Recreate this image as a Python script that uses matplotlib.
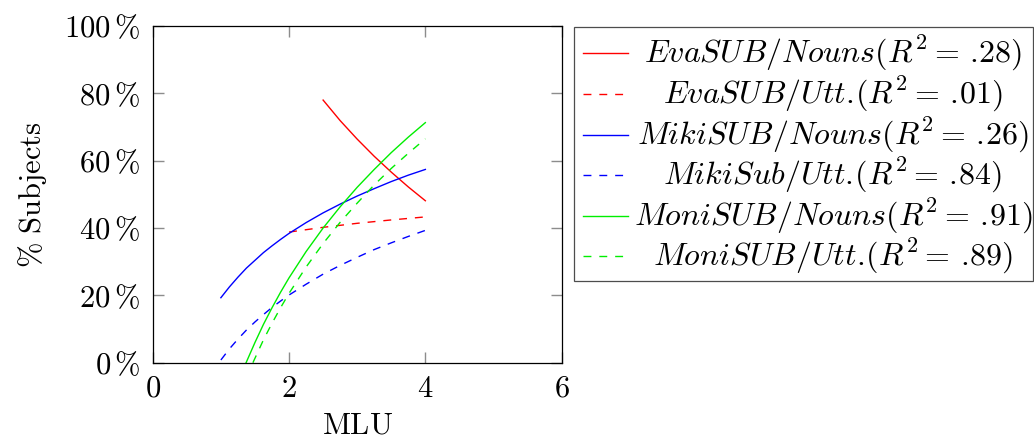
import matplotlib
matplotlib.use("Agg")
import matplotlib.pyplot as plt
from matplotlib.lines import Line2D
from matplotlib.patches import Rectangle

plt.rcParams['mathtext.fontset'] = 'cm'
plt.rcParams['font.family'] = 'serif'
plt.rcParams['font.serif'] = ['cmr10', 'DejaVu Serif']
plt.rcParams['axes.unicode_minus'] = False

# curves (MLU -> % subjects)
eva_nouns_x = [2.5, 2.75, 3.0, 3.25, 3.5, 3.75, 4.0]
eva_nouns_y = [78.0, 71.9, 66.4, 61.3, 56.6, 52.2, 48.1]
eva_utt_x = [2.0, 2.5, 3.0, 3.5, 4.0]
eva_utt_y = [38.8, 40.2, 41.4, 42.4, 43.3]
miki_nouns_x = [1.0, 1.125, 1.25, 1.375, 1.5, 1.625, 1.75, 1.875, 2.0, 2.25,
                2.5, 2.75, 3.0, 3.25, 3.5, 3.75, 4.0]
miki_nouns_y = [19.3, 22.5, 25.4, 28.1, 30.4, 32.7, 34.7, 36.6, 38.4, 41.6,
                44.5, 47.1, 49.5, 51.7, 53.8, 55.7, 57.4]
miki_utt_x = [1.0, 1.125, 1.25, 1.375, 1.5, 1.625, 1.75, 1.875, 2.0, 2.25,
              2.5, 2.75, 3.0, 3.25, 3.5, 3.75, 4.0]
miki_utt_y = [0.8, 4.1, 7.0, 9.7, 12.1, 14.3, 16.4, 18.3, 20.1, 23.3,
              26.3, 28.9, 31.3, 33.6, 35.6, 37.5, 39.3]
moni_nouns_x = [1.37, 1.5, 1.625, 1.75, 1.875, 2.0, 2.25, 2.5, 2.75, 3.0,
                3.25, 3.5, 3.75, 4.0]
moni_nouns_y = [0.0, 6.0, 11.4, 16.3, 20.9, 25.2, 33.0, 40.0, 46.3, 52.1,
                57.4, 62.4, 67.0, 71.3]
moni_utt_x = [1.47, 1.625, 1.75, 1.875, 2.0, 2.25, 2.5, 2.75, 3.0, 3.25,
              3.5, 3.75, 4.0]
moni_utt_y = [0.0, 6.8, 11.7, 16.3, 20.6, 28.4, 35.4, 41.7, 47.4, 52.8,
              57.7, 62.2, 66.5]

# ".\!" cancels the space mathtext puts after a full stop
labels = [r'$EvaSUB/Nouns(R^2 =\,.\!28)$',
          r'$EvaSUB/Utt.\!(R^2 =\,.\!01)$',
          r'$MikiSUB/Nouns(R^2 =\,.\!26)$',
          r'$MikiSub/Utt.\!(R^2 =\,.\!84)$',
          r'$MoniSUB/Nouns(R^2 =\,.\!91)$',
          r'$MoniSUB/Utt.\!(R^2 =\,.\!89)$']
colors = ['red', 'red', 'blue', 'blue', '#00ee00', '#00ee00']
styles = ['-', '--', '-', '--', '-', '--']

xticks = [0, 2, 4, 6]
yticks = [0, 20, 40, 60, 80, 100]

fs = 22
dash = (5.7, 5.7)

fig = plt.figure(figsize=(10.34, 4.4), dpi=100)
ax = fig.add_axes([0.1477, 0.1757, 0.3955, 0.7652])

series = [(eva_nouns_x, eva_nouns_y), (eva_utt_x, eva_utt_y),
          (miki_nouns_x, miki_nouns_y), (miki_utt_x, miki_utt_y),
          (moni_nouns_x, moni_nouns_y), (moni_utt_x, moni_utt_y)]
for (x, y), c, s in zip(series, colors, styles):
    ln, = ax.plot(x, y, color=c, lw=1.0, linestyle=s)
    if s == '--':
        ln.set_dashes(dash)

ax.set_xlim(0, 6)
ax.set_ylim(0, 100)
ax.set_xticks(xticks)
ax.set_xticklabels([r'$%d$' % t for t in xticks])
ax.set_yticks(yticks)
ax.set_yticklabels([r'$%d\,\%%$' % t for t in yticks])
ax.tick_params(direction='in', length=8, width=1.0, color='0.55',
               top=True, right=True, labelsize=fs)
ax.tick_params(axis='x', pad=9)
ax.tick_params(axis='y', pad=9)
for sp in ax.spines.values():
    sp.set_linewidth(0.9)
ax.set_xlabel(r'$\mathrm{MLU}$', fontsize=fs, labelpad=7)
ax.set_ylabel(r'$\%\ \mathrm{Subjects}$', fontsize=fs, labelpad=11)

# legend box drawn by hand so the entries can be centred like pgfplots
W, H = 1034.0, 440.0
fig.add_artist(Rectangle((574 / W, 1 - 281 / H), 459 / W, 254 / H,
                         transform=fig.transFigure, fill=False,
                         edgecolor='0.3', lw=0.9))
rows = [53, 94, 135, 175, 216, 256]
for r, lab, c, s in zip(rows, labels, colors, styles):
    yy = 1 - r / H
    x1 = 628 if s == '-' else 624
    l = Line2D([583 / W, x1 / W], [yy, yy], transform=fig.transFigure,
               color=c, lw=1.0, linestyle=s)
    if s == '--':
        l.set_dashes(dash)
    fig.add_artist(l)
    fig.text(833 / W, yy, lab, fontsize=23, ha='center', va='center')

fig.savefig('out.png', dpi=100)
